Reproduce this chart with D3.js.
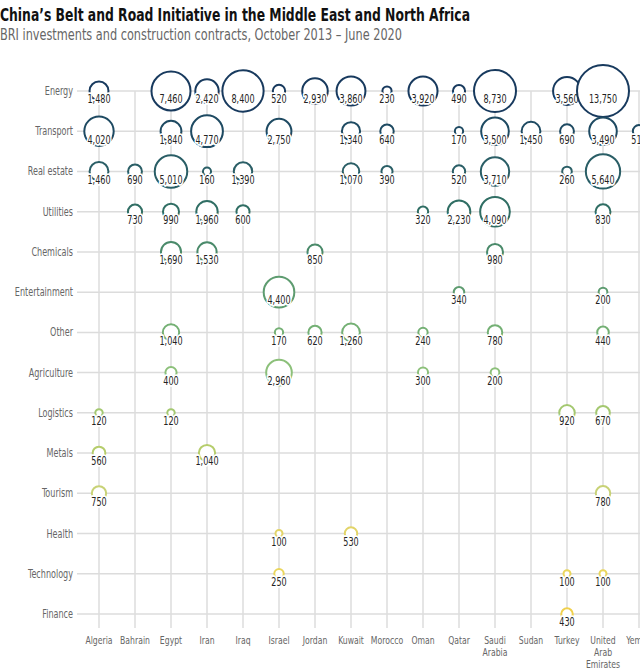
<!DOCTYPE html>
<html><head><meta charset="utf-8">
<script src="https://cdn.jsdelivr.net/npm/d3@7"></script>
<style>
html,body{margin:0;padding:0;background:#fff;overflow:hidden;}
svg{display:block;font-family:"Liberation Sans Narrow","DejaVu Sans Condensed",sans-serif;}
</style></head>
<body><svg id="c" width="640" height="668"></svg>
<script>
const countries = ["Algeria","Bahrain","Egypt","Iran","Iraq","Israel","Jordan","Kuwait","Morocco","Oman","Qatar","Saudi Arabia","Sudan","Turkey","United Arab Emirates","Yemen"];
const sectors = ["Energy","Transport","Real estate","Utilities","Chemicals","Entertainment","Other","Agriculture","Logistics","Metals","Tourism","Health","Technology","Finance"];
const sectorColors = ["#183a5e","#1e4a62","#2a5e66","#306e64","#4a8a6a","#5e9c70","#74b074","#8cc07a","#a4c870","#b6cd6c","#c8d276","#e2d468","#ead65c","#f0d04c"];
// values per sector, aligned with countries (null = none), US$ million
const energy        = [1480,null,7460,2420,8400,520,2930,3860,230,3920,490,8730,null,3560,13750,null];
const transport     = [4020,null,1840,4770,null,2750,null,1340,640,null,170,3500,1450,690,3490,510];
const realEstate    = [1460,690,5010,160,1390,null,null,1070,390,null,520,3710,null,260,5640,null];
const utilities     = [null,730,990,1960,600,null,null,null,null,320,2230,4090,null,null,830,null];
const chemicals     = [null,null,1690,1530,null,null,850,null,null,null,null,980,null,null,null,null];
const entertainment = [null,null,null,null,null,4400,null,null,null,null,340,null,null,null,200,null];
const other         = [null,null,1040,null,null,170,620,1260,null,240,null,780,null,null,440,null];
const agriculture   = [null,null,400,null,null,2960,null,null,null,300,null,200,null,null,null,null];
const logistics     = [120,null,120,null,null,null,null,null,null,null,null,null,null,920,670,null];
const metals        = [560,null,null,1040,null,null,null,null,null,null,null,null,null,null,null,null];
const tourism       = [750,null,null,null,null,null,null,null,null,null,null,null,null,null,780,null];
const health        = [null,null,null,null,null,100,null,530,null,null,null,null,null,null,null,null];
const technology    = [null,null,null,null,null,250,null,null,null,null,null,null,null,100,100,null];
const finance       = [null,null,null,null,null,null,null,null,null,null,null,null,null,430,null,null];
const title = "China\u2019s Belt and Road Initiative in the Middle East and North Africa";
const subtitle = "BRI investments and construction contracts, October 2013 \u2013 June 2020";

const rows = [energy,transport,realEstate,utilities,chemicals,entertainment,other,agriculture,logistics,metals,tourism,health,technology,finance];
const cells = [];
rows.forEach((arr,i)=>arr.forEach((v,j)=>{ if(v!=null) cells.push({sector:sectors[i],country:countries[j],value:v,si:i}); }));

const svg = d3.select("#c");
const x = d3.scalePoint().domain(countries).range([99,639]);
const y = d3.scalePoint().domain(sectors).range([91,614]);
const r = d3.scaleSqrt().domain([0,13750]).range([1.4,26]);
const fmt = d3.format(",");
const SQ = 0.78; // horizontal squeeze to mimic a narrow face

svg.append("text").attr("x",0).attr("y",21).attr("font-size",18).attr("font-weight","bold").attr("fill","#111")
  .attr("textLength",470).attr("lengthAdjust","spacingAndGlyphs").text(title);
svg.append("text").attr("x",0).attr("y",40).attr("font-size",15.5).attr("fill","#666")
  .attr("textLength",402).attr("lengthAdjust","spacingAndGlyphs").text(subtitle);

const grid = svg.append("g");
grid.selectAll("line.h").data(sectors).join("line")
  .attr("x1",77).attr("x2",680).attr("y1",d=>y(d)).attr("y2",d=>y(d))
  .attr("stroke","#dcdcdc").attr("stroke-width",1.5);
grid.selectAll("line.v").data(countries).join("line")
  .attr("x1",d=>x(d)).attr("x2",d=>x(d)).attr("y1",y(sectors[0])).attr("y2",628)
  .attr("stroke","#dcdcdc").attr("stroke-width",1.5);

// y axis labels
svg.append("g").selectAll("text").data(sectors).join("text")
  .attr("transform",d=>`translate(73,${y(d)+4}) scale(${SQ},1)`).attr("text-anchor","end")
  .attr("font-size",11.5).attr("fill","#666").text(d=>d);

// x axis labels
const xl = svg.append("g").selectAll("text").data(countries).join("text")
  .attr("text-anchor","middle").attr("font-size",11).attr("fill","#666")
  .attr("transform",d=>`translate(${x(d)},644) scale(${SQ},1)`);
xl.each(function(d){
  const words = d==="Saudi Arabia"?["Saudi","Arabia"]:(d==="United Arab Emirates"?["United","Arab","Emirates"]:[d]);
  d3.select(this).selectAll("tspan").data(words).join("tspan")
    .attr("x",0).attr("dy",(w,i)=>i?12:0).text(w=>w);
});

const g = svg.append("g").selectAll("g").data(cells).join("g")
  .attr("transform",d=>`translate(${x(d.country)},${y(d.sector)})`);
g.append("circle").attr("r",d=>r(d.value)).attr("fill","#fff")
  .attr("stroke",d=>sectorColors[d.si]).attr("stroke-width",2);
g.append("text").attr("transform",`translate(0,12.3) scale(${SQ},1)`).attr("text-anchor","middle").attr("font-size",11.5)
  .attr("fill","#222").attr("stroke","#fff").attr("stroke-width",3.5)
  .attr("paint-order","stroke").attr("stroke-linejoin","round").text(d=>fmt(d.value));
</script></body></html>
